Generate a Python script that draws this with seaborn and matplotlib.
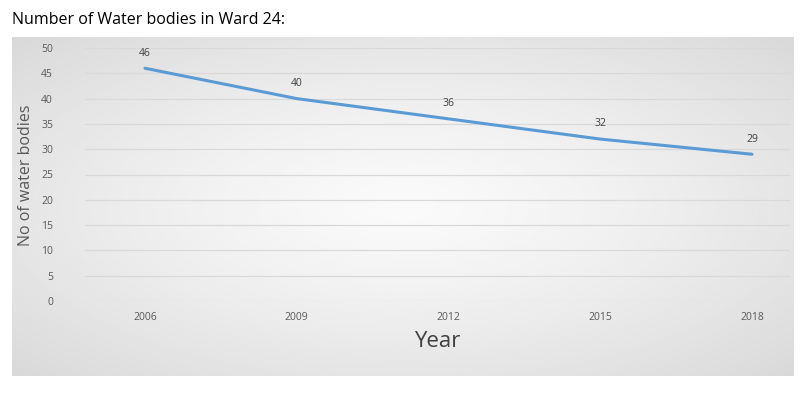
import numpy as np
import seaborn as sns
import matplotlib.pyplot as plt

years = ['2006', '2009', '2012', '2015', '2018']
water_bodies = [46, 40, 36, 32, 29]
y_ticks = [0, 5, 10, 15, 20, 25, 30, 35, 40, 45, 50]

sns.set_style('white')
plt.rcParams['font.family'] = ['Open Sans', 'DejaVu Sans']

W, H = 812, 395
fig = plt.figure(figsize=(W / 100, H / 100), dpi=100)
fig.patch.set_facecolor('white')

# chart box with radial grey gradient
box = fig.add_axes([12 / W, 1 - 376 / H, (794 - 12) / W, (376 - 37) / H])
gx, gy = np.meshgrid(np.linspace(-1, 1, 400), np.linspace(-1, 1, 200))
r = np.sqrt(gx ** 2 + gy ** 2) / np.sqrt(2)
box.imshow(0.98 - 0.13 * r ** 1.3, cmap='gray', vmin=0, vmax=1,
           aspect='auto', extent=[0, 1, 0, 1])
box.axis('off')

fig.text(12 / W, 1 - 20 / H, 'Number of Water bodies in Ward 24:',
         fontsize=11.5, color='black', va='center', ha='left')

ax = fig.add_axes([85 / W, 1 - 301 / H, (790 - 85) / W, (301 - 48) / H])
ax.patch.set_alpha(0)

x = np.arange(len(years))
sns.lineplot(x=x, y=water_bodies, ax=ax, color='#5B9BD5', linewidth=2.2)

for xi, v in zip(x, water_bodies):
    ax.annotate(str(v), (xi, v), xytext=(0, 7), textcoords='offset points',
                ha='center', va='bottom', fontsize=7.5, color='#404040')

ax.set_ylim(0, 50)
ax.set_yticks(y_ticks)
ax.set_xlim(-0.395, 4.25)
ax.set_xticks(x)
ax.set_xticklabels(years)
ax.yaxis.grid(True, color='#d9d9d9', linewidth=0.9)
ax.set_axisbelow(True)
for s in ax.spines.values():
    s.set_visible(False)
ax.tick_params(axis='both', length=0, labelsize=7.5, labelcolor='#595959')
ax.tick_params(axis='y', pad=23)
ax.tick_params(axis='x', pad=8)

ax.set_xlabel('Year', fontsize=16, color='#404040', labelpad=6)
fig.text(26 / W, 1 - 175 / H, 'No of water bodies', rotation=90,
         fontsize=11.5, color='#595959', ha='center', va='center')

fig.savefig('out.png', dpi=100)
